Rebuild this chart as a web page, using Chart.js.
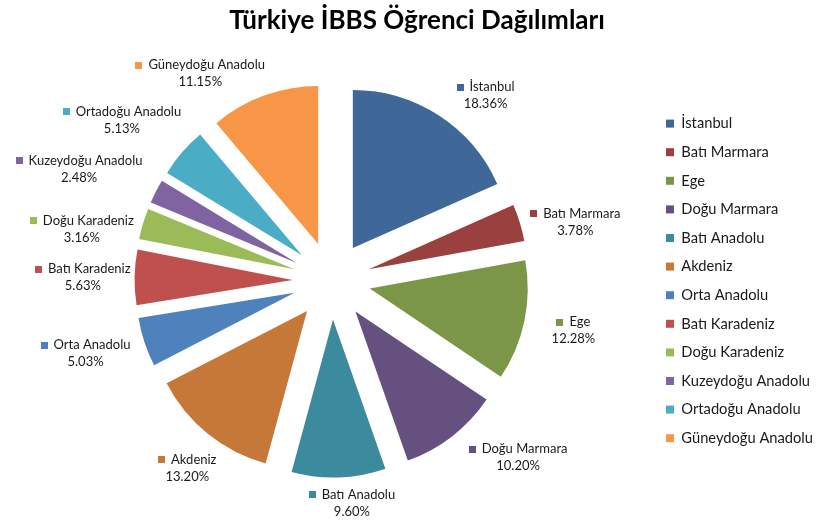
<!DOCTYPE html>
<html>
<head>
<meta charset="utf-8">
<script src="https://cdn.jsdelivr.net/npm/chart.js@4.4.1/dist/chart.umd.min.js"></script>
<style>
html,body{margin:0;padding:0;background:#fff;}
#wrap{width:816px;height:522px;position:relative;}
</style>
</head>
<body>
<div id="wrap"><canvas id="c" width="816" height="522"></canvas></div>
<script>
// ---- data ----
const titleText = 'Türkiye İBBS Öğrenci Dağılımları';
const regions = ['İstanbul','Batı Marmara','Ege','Doğu Marmara','Batı Anadolu','Akdeniz','Orta Anadolu','Batı Karadeniz','Doğu Karadeniz','Kuzeydoğu Anadolu','Ortadoğu Anadolu','Güneydoğu Anadolu'];
const shares = [18.36,3.78,12.28,10.20,9.60,13.20,5.03,5.63,3.16,2.48,5.13,11.15];

// ---- style / layout ----
const colors = ['#3F6797','#9A403E','#7C9647','#66507F','#3C8A9E','#C67838','#4F81BD','#C0504D','#9BBB59','#8064A2','#4BACC6','#F79646'];
const FONT = 'Lato, "Open Sans", sans-serif';
const EXPLODE = 39;
const RADIUS = 158;
const LABEL_GAP = 16;
// small placement nudges (px) for the outside labels, like Excel's "best fit"
const labelNudge = [[22,8],[-3,9],[12,3],[26,-5],[11,-7],[8,9],[-1,1],[12,1],[4,15],[-6,-7],[-3,-11],[-36,9]];

const explodePlugin = {
  id: 'explode',
  beforeDatasetsDraw(chart) {
    const a = chart.chartArea;
    const cx = (a.left + a.right) / 2, cy = (a.top + a.bottom) / 2;
    chart.getDatasetMeta(0).data.forEach(arc => {
      const mid = (arc.startAngle + arc.endAngle) / 2;
      arc.x = cx + Math.cos(mid) * EXPLODE;
      arc.y = cy + Math.sin(mid) * EXPLODE;
    });
  }
};

const labelPlugin = {
  id: 'outLabels',
  afterDatasetsDraw(chart) {
    const ctx = chart.ctx;
    const a = chart.chartArea;
    const cx = (a.left + a.right) / 2, cy = (a.top + a.bottom) / 2;
    const meta = chart.getDatasetMeta(0);
    ctx.save();
    ctx.font = '13px ' + FONT;
    ctx.textBaseline = 'middle';
    const lineH = 17, sq = 7, sqGap = 6;
    meta.data.forEach((arc, i) => {
      const mid = (arc.startAngle + arc.endAngle) / 2;
      const r = arc.outerRadius + EXPLODE + LABEL_GAP;
      const ax = cx + Math.cos(mid) * r, ay = cy + Math.sin(mid) * r;
      const name = chart.data.labels[i];
      const pct = chart.data.datasets[0].data[i].toFixed(2) + '%';
      const w1 = sq + sqGap + ctx.measureText(name).width;
      const w2 = ctx.measureText(pct).width;
      const w = Math.max(w1, w2), h = lineH * 2;
      const bx = ax + Math.cos(mid) * w / 2 + labelNudge[i][0];
      const by = ay + Math.sin(mid) * h / 2 + labelNudge[i][1];
      const l1 = bx - w1 / 2, y1 = by - lineH / 2, y2 = by + lineH / 2;
      ctx.fillStyle = chart.data.datasets[0].backgroundColor[i];
      ctx.fillRect(Math.round(l1), Math.round(y1 - sq / 2), sq, sq);
      ctx.fillStyle = '#1a1a1a';
      ctx.textAlign = 'left';
      ctx.fillText(name, l1 + sq + sqGap, y1);
      ctx.textAlign = 'center';
      ctx.fillText(pct, bx, y2);
    });
    ctx.restore();
  }
};

new Chart(document.getElementById('c'), {
  type: 'pie',
  data: {
    labels: regions,
    datasets: [{
      data: shares,
      backgroundColor: colors,
      borderWidth: 0
    }]
  },
  plugins: [explodePlugin, labelPlugin],
  options: {
    responsive: false,
    animation: false,
    radius: RADIUS,
    layout: { padding: { left: 11, right: -7, bottom: 6 } },
    plugins: {
      title: {
        display: true,
        text: titleText,
        color: '#000',
        font: { family: FONT, size: 26, weight: 'bold' },
        padding: { top: 5, bottom: 9 }
      },
      legend: {
        position: 'right',
        title: { display: true, text: ' ', font: { family: FONT, size: 14 }, padding: { top: 0, bottom: 29 } },
        labels: {
          color: '#1a1a1a',
          font: { family: FONT, size: 14.7 },
          boxWidth: 8,
          boxHeight: 8,
          padding: 13.9
        }
      },
      tooltip: { enabled: false }
    }
  }
});
</script>
</body>
</html>
